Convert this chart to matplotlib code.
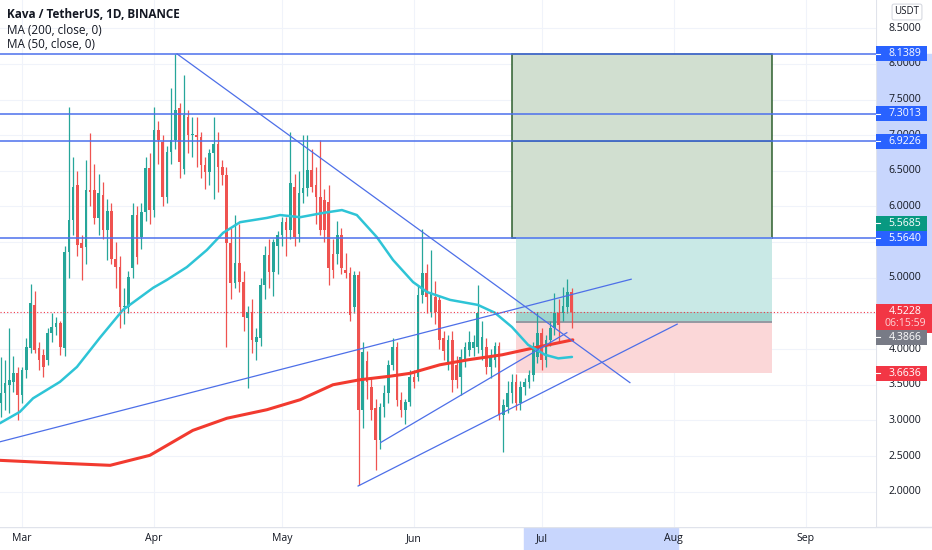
import matplotlib
matplotlib.use("Agg")
import matplotlib.pyplot as plt
import matplotlib.dates as mdates
from matplotlib.patches import Rectangle
import pandas as pd

plt.rcParams['font.family'] = ['Open Sans', 'DejaVu Sans']

# daily candles, Feb 24 .. Jul 8 2021
dates = pd.date_range("2021-02-24", periods=135, freq="D")
opens = [3.24, 3.38, 3.49, 3.54, 3.66, 3.35, 3.70, 4.01, 4.62, 4.01,
         3.92, 3.85, 4.22, 4.31, 4.36, 4.01, 5.36, 5.81, 6.30, 5.49,
         5.43, 6.23, 6.23, 5.84, 6.16, 5.67, 5.93, 5.27, 5.15, 4.59,
         4.59, 5.14, 5.88, 5.57, 5.92, 6.54, 5.95, 7.07, 6.90, 6.13,
         6.76, 6.93, 7.38, 6.53, 7.26, 7.00, 7.00, 6.97, 6.58, 6.48,
         6.75, 6.87, 6.55, 6.44, 5.49, 4.93, 5.21, 4.94, 4.43, 4.52,
         4.10, 4.15, 4.90, 5.32, 5.08, 5.45, 5.60, 5.78, 5.67, 6.27,
         5.62, 6.19, 6.26, 6.51, 6.30, 6.13, 6.09, 6.06, 5.34, 5.34,
         5.60, 5.11, 5.07, 4.59, 5.04, 3.14, 3.84, 3.47, 3.17, 2.72,
         3.19, 3.38, 3.77, 4.03, 3.28, 3.14, 3.26, 3.61, 3.61, 4.76,
         5.07, 4.52, 4.73, 4.69, 4.15, 3.80, 4.13, 3.77, 3.61, 3.85,
         3.99, 4.02, 4.03, 3.99, 4.03, 3.75, 3.85, 4.05, 3.07, 3.19,
         3.38, 3.54, 3.24, 3.47, 3.54, 3.64, 3.89, 4.22, 3.85, 4.13,
         4.29, 4.50, 4.50, 4.59, 4.80]
highs = [3.89, 3.85, 4.29, 3.90, 3.75, 3.75, 4.15, 4.92, 4.82, 4.10,
         4.00, 4.30, 4.50, 4.45, 4.40, 5.45, 7.39, 6.70, 6.50, 5.60,
         6.65, 7.03, 6.60, 6.45, 6.35, 6.10, 6.05, 5.50, 5.30, 4.85,
         5.10, 6.05, 6.00, 6.05, 6.70, 6.75, 7.40, 7.20, 7.00, 6.85,
         7.66, 8.14, 7.45, 7.84, 7.35, 7.25, 7.25, 7.05, 6.70, 6.80,
         7.25, 7.05, 6.65, 6.55, 5.70, 5.88, 5.75, 5.10, 4.60, 4.70,
         4.30, 5.00, 5.45, 5.55, 5.55, 5.65, 5.85, 5.85, 7.04, 6.45,
         6.50, 7.00, 7.00, 6.80, 6.55, 6.93, 6.25, 6.30, 5.55, 5.80,
         5.70, 5.35, 5.15, 5.10, 5.10, 4.10, 3.98, 3.60, 3.30, 3.25,
         3.50, 3.85, 4.15, 4.10, 3.40, 3.30, 3.70, 3.70, 4.90, 5.69,
         5.20, 5.39, 4.95, 4.75, 4.25, 4.20, 4.25, 3.90, 4.00, 4.10,
         4.25, 4.20, 4.90, 4.40, 4.15, 4.00, 4.10, 4.10, 3.30, 3.55,
         3.65, 3.65, 3.55, 3.60, 3.70, 4.10, 4.52, 4.30, 4.20, 4.40,
         4.78, 4.70, 4.87, 4.98, 4.85]
lows = [3.05, 3.15, 3.10, 3.40, 3.00, 3.25, 3.60, 3.95, 3.95, 3.70,
        3.61, 3.78, 4.10, 4.20, 3.92, 3.90, 5.00, 5.60, 5.30, 4.97,
        5.20, 6.00, 5.75, 5.60, 5.55, 5.25, 5.20, 4.85, 4.29, 4.35,
        4.50, 5.00, 5.20, 5.40, 5.80, 5.75, 5.85, 6.60, 6.00, 6.05,
        6.60, 6.80, 6.40, 6.45, 6.75, 6.70, 6.55, 6.40, 6.25, 6.30,
        6.10, 6.20, 6.30, 4.03, 4.70, 4.85, 4.80, 4.25, 3.45, 3.95,
        3.85, 4.05, 4.70, 4.85, 4.75, 5.05, 5.45, 5.30, 5.55, 5.45,
        5.50, 6.05, 6.15, 6.20, 5.75, 5.60, 5.50, 4.90, 5.00, 5.20,
        5.05, 5.00, 4.40, 4.50, 2.09, 2.90, 3.30, 3.00, 2.30, 2.60,
        3.05, 3.25, 3.70, 3.20, 3.05, 2.95, 3.20, 3.45, 3.55, 4.65,
        4.50, 4.45, 4.35, 4.00, 3.85, 3.70, 3.40, 3.45, 3.35, 3.75,
        3.90, 3.90, 3.95, 3.85, 3.65, 3.60, 3.75, 3.00, 2.55, 3.10,
        3.25, 3.15, 3.15, 3.35, 3.45, 3.55, 3.80, 3.70, 3.75, 4.05,
        4.20, 4.10, 4.40, 4.50, 4.29]
closes = [3.39, 3.52, 3.56, 3.66, 3.35, 3.70, 4.03, 4.64, 3.99, 3.85,
          3.75, 4.22, 4.31, 4.36, 4.03, 5.36, 5.81, 6.27, 5.46, 5.42,
          6.23, 6.20, 5.84, 6.19, 5.67, 5.93, 5.27, 5.15, 4.59, 4.60,
          5.01, 5.88, 5.29, 5.92, 6.54, 5.95, 7.07, 6.93, 6.13, 6.76,
          6.93, 7.35, 6.62, 7.28, 7.00, 7.02, 6.98, 6.58, 6.48, 6.75,
          6.87, 6.55, 6.44, 5.49, 4.93, 5.21, 4.94, 4.45, 4.52, 4.13,
          4.17, 4.90, 5.32, 5.08, 5.50, 5.60, 5.78, 5.67, 6.33, 5.57,
          6.19, 6.26, 6.51, 6.27, 6.13, 5.67, 5.67, 5.14, 5.11, 5.60,
          5.14, 5.07, 4.48, 5.04, 3.14, 3.96, 3.54, 3.14, 2.72, 3.19,
          3.38, 3.77, 4.03, 3.28, 3.14, 3.26, 3.61, 3.54, 4.76, 5.07,
          4.73, 4.79, 4.52, 4.13, 3.98, 4.13, 3.56, 3.56, 3.89, 4.03,
          4.10, 4.10, 4.50, 4.17, 3.75, 3.89, 4.05, 3.07, 3.21, 3.38,
          3.54, 3.24, 3.47, 3.54, 3.64, 4.03, 4.22, 3.85, 4.13, 4.29,
          4.50, 4.34, 4.61, 4.80, 4.5228]

# moving averages (days after Mar 1, price)
ma50_days = [-5.2, -0.5, 2.6, 8.9, 12.9, 18.3, 23.7, 30.8, 34.0, 38.7, 43.4, 47.2, 51.2,
             57.5, 60.6, 65.3, 70.7, 75.1, 78.6, 83.3, 87.1, 91.8, 95.1, 100.5, 107.0,
             111.0, 115.0, 118.8, 122.8, 125.9, 129.1]
ma50_vals = [2.96, 3.12, 3.31, 3.54, 3.75, 4.16, 4.55, 4.86, 4.97, 5.15, 5.39, 5.63, 5.78,
             5.84, 5.88, 5.85, 5.91, 5.95, 5.88, 5.57, 5.25, 4.94, 4.80, 4.69, 4.62,
             4.51, 4.31, 4.06, 3.92, 3.87, 3.89]
ma200_days = [-5.2, 8.9, 20.7, 30.0, 40.1, 48.1, 57.5, 65.3, 73.0, 79.3, 86.4, 91.1,
              98.1, 104.7, 112.7, 120.4, 129.3]
ma200_vals = [2.44, 2.40, 2.37, 2.51, 2.86, 3.03, 3.15, 3.29, 3.50, 3.57, 3.62, 3.66,
              3.78, 3.85, 3.92, 4.02, 4.13]

# drawings
h_levels = [8.1389, 7.3013, 6.9226, 5.5640]
trend_lines = [((36.4, 8.14), (142.7, 3.53)),
               ((-5.16, 2.70), (143.0, 4.98)),
               ((78.9, 2.08), (153.8, 4.35)),
               ((84.2, 2.69), (127.9, 4.23))]
target_levels = [5.5640, 6.9226, 8.1389]
entry, stop, target, last = 4.3866, 3.6636, 5.5685, 4.5228
price_ticks = [2.0, 2.5, 3.0, 3.5, 4.0, 4.5, 5.0, 5.5, 6.0, 6.5, 7.0, 7.5, 8.0, 8.5]
hidden_ticks = [4.5, 5.5]  # covered by price tags in the reference

base = mdates.date2num(pd.Timestamp("2021-03-01"))
def day(d):
    return base + d

x = mdates.date2num(dates)
W, H = 932, 550
fig = plt.figure(figsize=(W / 100, H / 100), dpi=100)
ax = fig.add_axes([0, 23 / H, 876 / W, 527 / H])
xlim = (day(-5.16), day(200.47))
ylim = (1.505, 8.896)
ax.set_xlim(*xlim)
ax.set_ylim(*ylim)
ax.axis("off")

# grid
for v in price_ticks:
    ax.axhline(v, color="#f0f3fa", lw=0.8, zorder=0)
months = pd.date_range("2021-03-01", "2021-09-01", freq="MS")
for m in months:
    ax.axvline(mdates.date2num(m), color="#f0f3fa", lw=0.8, zorder=0)

# position tools
x0, x1 = day(115.0), day(176.06)
for lo, hi in [(target_levels[0], target_levels[1]), (target_levels[1], target_levels[2])]:
    ax.add_patch(Rectangle((x0, lo), x1 - x0, hi - lo, fc="#d1dfd0", ec="#2d5f2d", lw=1.1, zorder=1))
lx0 = day(116.0)
ax.add_patch(Rectangle((lx0, entry), x1 - lx0, target - entry, fc="#c9e9e6", ec="none", zorder=1))
ax.add_patch(Rectangle((lx0, entry), x1 - lx0, last - entry, fc="#9fd4cd", ec="none", zorder=1))
ax.add_patch(Rectangle((lx0, stop), x1 - lx0, entry - stop, fc="#fbd7d8", ec="none", zorder=1))
ax.hlines(entry, lx0, x1, color="#9598a1", lw=1.4, zorder=1.5)

# candles
up = [c >= o for o, c in zip(opens, closes)]
cols = ["#26a69a" if u else "#ef5350" for u in up]
ax.vlines(x, lows, highs, colors=cols, lw=0.9, zorder=2.5)
bottoms = [min(o, c) for o, c in zip(opens, closes)]
heights = [max(abs(c - o), 0.015) for o, c in zip(opens, closes)]
ax.bar(x, heights, bottom=bottoms, width=0.62, color=cols, zorder=3)

# moving averages
ax.plot([day(d) for d in ma200_days], ma200_vals, color="#f23a2f", lw=2.2, zorder=4,
        solid_capstyle="round")
ax.plot([day(d) for d in ma50_days], ma50_vals, color="#2ec4d6", lw=1.8, zorder=4,
        solid_capstyle="round")

# lines
for v in h_levels:
    ax.axhline(v, color="#4c70ec", lw=1.1, zorder=4)
for (d0, p0), (d1, p1) in trend_lines:
    ax.plot([day(d0), day(d1)], [p0, p1], color="#4d6fe8", lw=0.9, zorder=4)
ax.axhline(last, color="#f23645", lw=0.8, ls=(0, (1, 2)), zorder=4)

# price scale
pax = fig.add_axes([876 / W, 23 / H, 56 / W, 527 / H])
pax.set_xlim(0, 1)
pax.set_ylim(*ylim)
pax.axis("off")
pax.axhspan(4.62, 8.1389, color="#c8d6fd", zorder=0)
pax.axvline(0, color="#e0e3eb", lw=0.8, zorder=1)
for v in price_ticks:
    if v in hidden_ticks:
        continue
    pax.text(0.52, v, f"{v:.4f}", ha="center", va="center", fontsize=7.6, color="#131722", zorder=2)

def tag(p, text, color, center=None):
    c = p if center is None else center
    pax.add_patch(Rectangle((0, c - 0.105), 0.91, 0.21, fc=color, ec="none",
                            zorder=3, clip_on=False))
    pax.plot([0, 0.07], [c, c], color="white", lw=0.8, zorder=4)
    pax.text(0.52, c, text, ha="center", va="center", fontsize=7.6, color="white", zorder=4)

tag(8.1389, "8.1389", "#2962ff")
tag(7.3013, "7.3013", "#2962ff")
tag(6.9226, "6.9226", "#2962ff", center=6.915)
tag(target, f"{target:.4f}", "#089981", center=5.763)
tag(5.5640, "5.5640", "#2962ff", center=5.555)
# current price with countdown
pax.add_patch(Rectangle((0, 4.226), 1.1, 4.633 - 4.226, fc="#f23645", ec="none", zorder=3, clip_on=False))
pax.text(0.52, 4.527, f"{last:.4f}", ha="center", va="center", fontsize=7.6, color="white", zorder=4)
pax.text(0.52, 4.36, "06:15:59", ha="center", va="center", fontsize=7.6, color="#fcd3d6", zorder=4)
tag(entry, f"{entry:.4f}", "#787b86", center=4.164)
tag(stop, f"{stop:.4f}", "#f23645")

fig.text(907 / W, 1 - 12 / H, "USDT", ha="center", va="center", fontsize=7, color="#131722",
         bbox=dict(boxstyle="round,pad=0.25,rounding_size=0.2", fc="white", ec="#d1d4dc", lw=0.7))

# time scale
tax = fig.add_axes([0, 0, 876 / W, 23 / H])
tax.set_xlim(*xlim)
tax.set_ylim(0, 1)
tax.axis("off")
tax.axvspan(day(117.8), day(154.0), color="#c8d6fd", zorder=0)
tax.axhline(1, color="#e0e3eb", lw=1.0)
for m in months:
    tax.text(mdates.date2num(m), 0.5, m.strftime("%b"), ha="center", va="center",
             fontsize=7.6, color="#131722")
fig.add_artist(plt.Line2D([876 / W, 1], [23 / H, 23 / H], color="#e0e3eb", lw=1.0))

# legend texts
fig.text(7 / W, 1 - 14 / H, "Kava / TetherUS, 1D, BINANCE", fontsize=8.5, fontweight="bold",
         color="#131722", va="center")
fig.text(7 / W, 1 - 31 / H, "MA (200, close, 0)", fontsize=8.5, color="#131722", va="center")
fig.text(7 / W, 1 - 45 / H, "MA (50, close, 0)", fontsize=8.5, color="#131722", va="center")

fig.savefig("out.png", dpi=100, facecolor="white")
